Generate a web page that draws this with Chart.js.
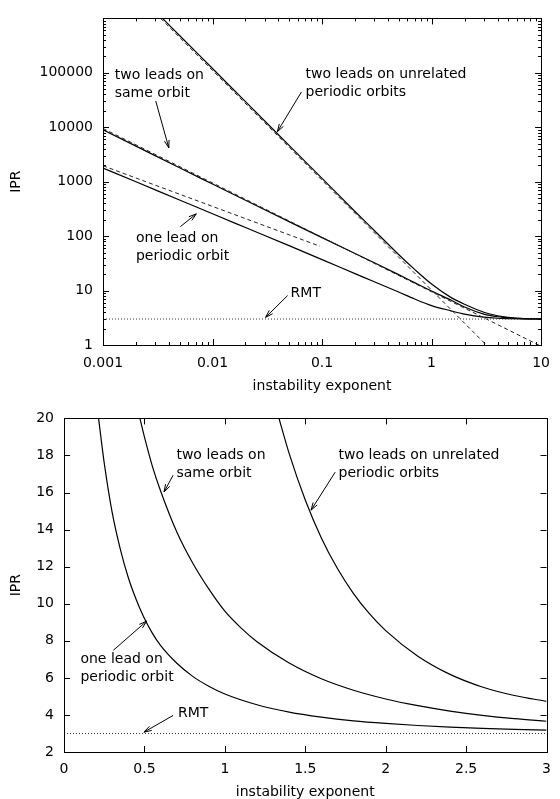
<!DOCTYPE html>
<html>
<head>
<meta charset="utf-8">
<script src="https://cdn.jsdelivr.net/npm/chart.js@4/dist/chart.umd.min.js"></script>
<style>
  html, body { margin: 0; padding: 0; background: #fff; }
  .panel { position: absolute; left: 0; width: 560px; }
</style>
</head>
<body>
<div class="panel" style="top:0;height:400px"><canvas id="logChart" width="560" height="400"></canvas></div>
<div class="panel" style="top:400px;height:399px"><canvas id="linChart" width="560" height="399"></canvas></div>
<script>
// ---- top panel: log-log ----
const logXTicks = [0.001, 0.01, 0.1, 1, 10];
const logYTicks = [1, 10, 100, 1000, 10000, 100000];

const lambdaGrid = [0.001, 0.002, 0.005, 0.01, 0.02, 0.05, 0.1, 0.2, 0.3, 0.5, 0.7, 1, 1.5, 2, 3, 4, 5, 7, 10];
const sameOrbitLog = [9000, 4500, 1800, 905, 455, 185, 94, 48, 32.5, 19.6, 14.0, 9.8, 6.7, 5.0, 3.7, 3.3, 3.15, 3.04, 3.01];
const oneLeadLog = [1780, 995, 460, 257, 144, 67, 37, 20.5, 14.5, 9.4, 7.0, 5.3, 4.25, 3.7, 3.25, 3.1, 3.05, 3.01, 3.0];

const unrelLambda = [0.0035, 0.005, 0.01, 0.02, 0.05, 0.1, 0.2, 0.3, 0.5, 0.7, 1, 1.5, 2, 3, 4, 5, 7, 10];
const unrelLog = [1000000, 486000, 120000, 29500, 4650, 1150, 283, 127, 46, 24.5, 13.2, 7.5, 5.6, 4.0, 3.45, 3.22, 3.06, 3.01];

// small-lambda asymptotes (dashed)
const unrelAsymLambda = [0.00336, 3.16];
const unrelAsym = [1000000, 1];
const sameAsymLambda = [0.001, 10];
const sameAsym = [9500, 0.95];
const oneAsymLambda = [0.001, 0.096];
const oneAsym = [1960, 65];

const rmtLogLambda = [0.001, 10];
const rmtValue = [3, 3];

// ---- bottom panel: linear ----
const linXTicks = [0, 0.5, 1, 1.5, 2, 2.5, 3];
const linYTicks = [2, 4, 6, 8, 10, 12, 14, 16, 18, 20];

const oneLeadX = [0.215, 0.25, 0.3, 0.35, 0.4, 0.45, 0.5, 0.55, 0.6, 0.7, 0.8, 0.9, 1.0, 1.2, 1.4, 1.6, 1.8, 2.0, 2.2, 2.4, 2.6, 2.8, 3.0];
const oneLead = [20, 17.6, 14.9, 12.95, 11.4, 10.2, 9.2, 8.4, 7.75, 6.8, 6.08, 5.55, 5.13, 4.55, 4.15, 3.88, 3.68, 3.54, 3.43, 3.34, 3.27, 3.22, 3.18];
const sameOrbitX = [0.472, 0.5, 0.55, 0.6, 0.7, 0.8, 0.9, 1.0, 1.1, 1.2, 1.4, 1.6, 1.8, 2.0, 2.2, 2.4, 2.6, 2.8, 3.0];
const sameOrbit = [20, 19.0, 17.4, 16.1, 13.9, 12.2, 10.8, 9.6, 8.7, 7.95, 6.8, 5.95, 5.33, 4.86, 4.5, 4.21, 3.98, 3.8, 3.66];
const unrelX = [1.33, 1.4, 1.5, 1.6, 1.7, 1.8, 1.9, 2.0, 2.2, 2.4, 2.6, 2.8, 3.0];
const unrel = [20.2, 18.1, 15.6, 13.55, 11.9, 10.55, 9.45, 8.55, 7.17, 6.19, 5.51, 5.05, 4.73];
const rmtLinX = [0, 3];

Chart.defaults.font.family = "'DejaVu Sans', sans-serif";
Chart.defaults.font.size = 14;
Chart.defaults.color = '#000';

const pts = (xs, ys) => xs.map((x, i) => ({ x: x, y: ys[i] }));

function curve(xs, ys) {
  return { data: pts(xs, ys), borderColor: '#000', borderWidth: 1.2, pointRadius: 0,
           cubicInterpolationMode: 'monotone', fill: false };
}
function dashed(xs, ys) {
  return { data: pts(xs, ys), borderColor: '#222', borderWidth: 1, pointRadius: 0,
           borderDash: [4, 3], fill: false };
}
function dotted(xs, ys) {
  return { data: pts(xs, ys), borderColor: '#333', borderWidth: 1, pointRadius: 0,
           borderDash: [1, 2], fill: false };
}

// box border, inward ticks (gnuplot look) and the text/arrow labels
const framePlugin = {
  id: 'frame',
  afterDatasetsDraw(chart, args, opts) {
    const { ctx, chartArea: a, scales: { x, y } } = chart;
    const seg = (x0, y0, x1, y1) => { ctx.beginPath(); ctx.moveTo(x0, y0); ctx.lineTo(x1, y1); ctx.stroke(); };
    const snap = p => Math.round(p) + 0.5;
    ctx.save();
    ctx.strokeStyle = '#000';
    ctx.lineWidth = 1;
    ctx.setLineDash([]);
    ctx.strokeRect(snap(a.left), snap(a.top), Math.round(a.right) - Math.round(a.left), Math.round(a.bottom) - Math.round(a.top));

    const minors = (scale) => {
      const out = [];
      for (let e = Math.floor(Math.log10(scale.min)); e < Math.log10(scale.max); e++) {
        for (let m = 2; m <= 9; m++) {
          const v = m * Math.pow(10, e);
          if (v > scale.min && v < scale.max) out.push(v);
        }
      }
      return out;
    };
    const xTick = (v, len) => { const p = snap(x.getPixelForValue(v)); seg(p, a.bottom, p, a.bottom - len); seg(p, a.top, p, a.top + len); };
    const yTick = (v, len) => { const p = snap(y.getPixelForValue(v)); seg(a.left, p, a.left + len, p); seg(a.right, p, a.right - len, p); };
    x.ticks.forEach(t => xTick(t.value, 6));
    y.ticks.forEach(t => yTick(t.value, 6));
    if (opts.logTicks) {
      minors(x).forEach(v => xTick(v, 3));
      minors(y).forEach(v => yTick(v, 3));
    }

    ctx.fillStyle = '#000';
    ctx.font = "14px 'DejaVu Sans', sans-serif";
    ctx.textAlign = 'left';
    ctx.textBaseline = 'middle';
    (opts.notes || []).forEach(n => {
      const tx = x.getPixelForValue(n.at[0]);
      const ty = y.getPixelForValue(n.at[1]);
      n.lines.forEach((s, i) => ctx.fillText(s, tx, ty + i * 18));
      const x0 = x.getPixelForValue(n.from[0]), y0 = y.getPixelForValue(n.from[1]);
      const x1 = x.getPixelForValue(n.to[0]), y1 = y.getPixelForValue(n.to[1]);
      seg(x0, y0, x1, y1);
      const ang = Math.atan2(y1 - y0, x1 - x0);
      const h = 8, w = 0.3;
      ctx.beginPath();
      ctx.moveTo(x1 - h * Math.cos(ang - w), y1 - h * Math.sin(ang - w));
      ctx.lineTo(x1, y1);
      ctx.lineTo(x1 - h * Math.cos(ang + w), y1 - h * Math.sin(ang + w));
      ctx.stroke();
    });
    ctx.restore();
  }
};

function axis(type, min, max, ticks, title, isX, size, tickPad, titlePad) {
  return {
    type: type, min: min, max: max,
    grid: { display: false, drawTicks: false },
    border: { display: false },
    afterBuildTicks: s => { s.ticks = ticks.map(v => ({ value: v })); },
    afterFit: s => { if (isX) s.height = size; else s.width = size; },
    ticks: { autoSkip: false, maxRotation: 0, padding: tickPad, callback: v => String(v) },
    title: { display: true, text: title, padding: titlePad, font: { size: 14, lineHeight: 1 } }
  };
}

new Chart(document.getElementById('logChart'), {
  type: 'line',
  data: {
    datasets: [
      dotted(rmtLogLambda, rmtValue),
      dashed(unrelAsymLambda, unrelAsym),
      dashed(sameAsymLambda, sameAsym),
      dashed(oneAsymLambda, oneAsym),
      curve(unrelLambda, unrelLog),
      curve(lambdaGrid, sameOrbitLog),
      curve(lambdaGrid, oneLeadLog)
    ]
  },
  options: {
    responsive: false,
    animation: false,
    layout: { padding: { top: 8, right: 11, left: 0, bottom: 0 } },
    plugins: {
      legend: { display: false },
      tooltip: { enabled: false },
      frame: {
        logTicks: true,
        notes: [
          { lines: ['two leads on', 'same orbit'], at: [0.00128, 90600], from: [0.00303, 30400], to: [0.00399, 4180] },
          { lines: ['two leads on unrelated', 'periodic orbits'], at: [0.0708, 92000], from: [0.0649, 44600], to: [0.0391, 8300] },
          { lines: ['one lead on', 'periodic orbit'], at: [0.002, 91], from: [0.00508, 149], to: [0.00711, 257] },
          { lines: ['RMT'], at: [0.0516, 8.9], from: [0.0485, 8.1], to: [0.0305, 3.22] }
        ]
      }
    },
    scales: {
      x: axis('logarithmic', 0.001, 10, logXTicks, 'instability exponent', true, 55, 10, { top: 0, bottom: 7 }),
      y: axis('logarithmic', 1, 1000000, logYTicks, 'IPR', false, 103, 10, { top: 9, bottom: 0 })
    }
  },
  plugins: [framePlugin]
});

new Chart(document.getElementById('linChart'), {
  type: 'line',
  data: {
    datasets: [
      dotted(rmtLinX, rmtValue),
      curve(oneLeadX, oneLead),
      curve(sameOrbitX, sameOrbit),
      curve(unrelX, unrel)
    ]
  },
  options: {
    responsive: false,
    animation: false,
    layout: { padding: { top: 16, right: 11, left: 0, bottom: 0 } },
    plugins: {
      legend: { display: false },
      tooltip: { enabled: false },
      frame: {
        logTicks: false,
        notes: [
          { lines: ['two leads on', 'same orbit'], at: [0.699, 18.0], from: [0.678, 16.93], to: [0.622, 16.03] },
          { lines: ['two leads on unrelated', 'periodic orbits'], at: [1.707, 18.0], from: [1.686, 17.1], to: [1.536, 15.05] },
          { lines: ['one lead on', 'periodic orbit'], at: [0.102, 7.01], from: [0.307, 7.49], to: [0.514, 9.06] },
          { lines: ['RMT'], at: [0.709, 4.06], from: [0.678, 3.97], to: [0.497, 3.07] }
        ]
      }
    },
    scales: {
      x: axis('linear', 0, 3, linXTicks, 'instability exponent', true, 47, 9, { top: 0, bottom: 0 }),
      y: axis('linear', 2, 20, linYTicks, 'IPR', false, 64, 10, { top: 9, bottom: 0 })
    }
  },
  plugins: [framePlugin]
});
</script>
</body>
</html>
